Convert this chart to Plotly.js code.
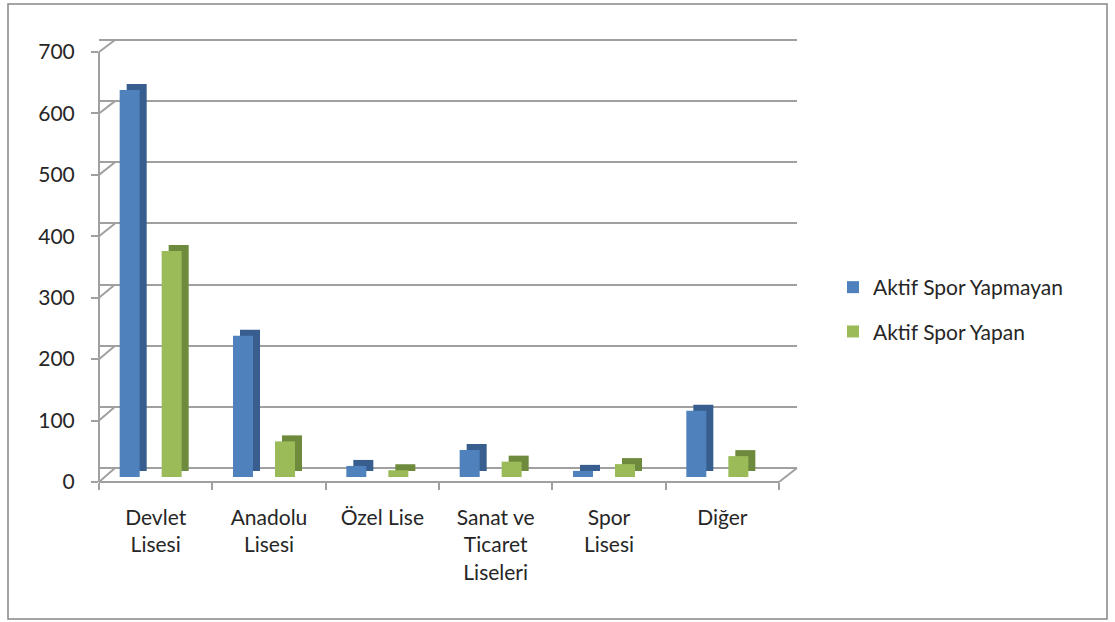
<!DOCTYPE html>
<html>
<head>
<meta charset="utf-8">
<script src="https://cdn.plot.ly/plotly-3.0.1.min.js"></script>
<style>html,body{margin:0;padding:0;background:#fff;}#chart{width:1115px;height:622px;}</style>
</head>
<body>
<div id="chart"></div>
<script>
// ---- data ----
const categories = ["Devlet<br>Lisesi", "Anadolu<br>Lisesi", "Özel Lise", "Sanat ve<br>Ticaret<br>Liseleri", "Spor<br>Lisesi", "Diğer"];
const seriesNames = ["Aktif Spor Yapmayan", "Aktif Spor Yapan"];
const notActive = [630, 230, 18, 44, 10, 108];
const active = [368, 58, 11, 25, 21, 34];
const yTicks = [0, 100, 200, 300, 400, 500, 600, 700];

// ---- geometry helpers (plot area in px) ----
const L = 99, R = 797, T = 36, B = 482;
const W = R - L, H = B - T;
const xp = px => (px - L) / W;
const yp = py => (B - py) / H;
const yMax = yTicks[yTicks.length - 1];
// y range so that value 0 sits at pixel p0 and yMax at pixel pTop
function yRange(p0, pTop) {
  const span = yMax * H / (p0 - pTop);
  const r0 = -(B - p0) / H * span;
  return [r0, r0 + span];
}
const catW = (779 - 99) / categories.length; // px per category
const xRange = [-0.5, -0.5 + W / catW];

const barW = 20 / catW, depthX = 7 / catW;
const offs = [-36 / catW, 6 / catW];
const fronts = ["#4F81BD", "#9BBB59"];
const sides = ["#375E8E", "#6E8A3C"];
const vals = [notActive, active];

const traces = [];
traces.push({type: "scatter", x: [categories[0]], y: [0], xaxis: "x", yaxis: "y", mode: "markers",
  marker: {opacity: 0}, showlegend: false, hoverinfo: "skip"});
traces.push({type: "scatter", x: [categories[0]], y: [0], xaxis: "x", yaxis: "y2", mode: "markers",
  marker: {opacity: 0}, showlegend: false, hoverinfo: "skip"});
// side (depth) faces
vals.forEach((v, i) => {
  traces.push({
    type: "bar", x: categories, y: v, xaxis: "x", yaxis: "y3",
    offset: offs[i] + depthX, width: barW,
    marker: {color: sides[i], line: {width: 0}},
    showlegend: false, hoverinfo: "skip"
  });
});
// front faces
vals.forEach((v, i) => {
  traces.push({
    type: "bar", x: categories, y: v, xaxis: "x", yaxis: "y4",
    name: seriesNames[i], legendgroup: "g" + i,
    offset: offs[i], width: barW,
    marker: {color: fronts[i], line: {width: 0}}
  });
});

const gridCol = "#a0a0a0";
const font = {family: "Lato, 'Open Sans', sans-serif", size: 21, color: "#262626"};

const shapes = [];
// cover for back-wall grid stubs in front of the left wall
shapes.push({type: "rect", xref: "paper", yref: "paper", x0: xp(96), x1: xp(115), y0: 0, y1: 1,
  fillcolor: "#ffffff", line: {width: 0}, layer: "between"});
yTicks.forEach(v => {
  const fy = 482 - v * 430 / yMax;
  const by = 468 - v * 428 / yMax;
  shapes.push({type: "line", xref: "paper", yref: "paper",
    x0: xp(99), y0: yp(fy), x1: xp(115), y1: yp(by),
    line: {color: gridCol, width: 2}});
});
// front floor edge, right floor edge, front value-axis line
shapes.push({type: "line", xref: "paper", yref: "paper",
  x0: xp(99), y0: yp(482), x1: xp(779), y1: yp(482), line: {color: gridCol, width: 2}});
shapes.push({type: "line", xref: "paper", yref: "paper",
  x0: xp(779), y0: yp(482), x1: xp(797), y1: yp(468), line: {color: gridCol, width: 2}});
shapes.push({type: "line", xref: "paper", yref: "paper",
  x0: xp(99), y0: yp(482), x1: xp(99), y1: yp(52), line: {color: gridCol, width: 2}});
// outer chart border
shapes.push({type: "rect", xref: "paper", yref: "paper",
  x0: xp(8), y0: yp(619), x1: xp(1107), y1: yp(4), line: {color: "#868686", width: 1.5}, layer: "below"});

const layout = {
  width: 1115, height: 622,
  margin: {l: L, r: 1115 - R, t: T, b: 622 - B, pad: 0},
  paper_bgcolor: "#ffffff", plot_bgcolor: "rgba(0,0,0,0)",
  font: font,
  barmode: "overlay",
  showlegend: true,
  legend: {x: xp(833), y: yp(267), xanchor: "left", yanchor: "top",
    font: {family: font.family, size: 21, color: "#262626"},
    traceorder: "grouped", tracegroupgap: 14, itemwidth: 30, bgcolor: "rgba(0,0,0,0)"},
  xaxis: {domain: [0, 1], type: "category", range: xRange, anchor: "y",
    showline: false, ticks: "outside", ticklen: 7,
    tickcolor: gridCol, tickwidth: 2, tickson: "boundaries", showgrid: false, zeroline: false,
    tickfont: font, ticklabelstandoff: 21, fixedrange: true},
  yaxis: {domain: [0, 1], range: yRange(482, 52), tickvals: yTicks, anchor: "x",
    showline: false, ticks: "outside", ticklen: 7,
    tickcolor: gridCol, tickwidth: 2, showgrid: false, zeroline: false,
    tickfont: font, ticklabelstandoff: 12, fixedrange: true},
  yaxis2: {range: yRange(468, 40), tickvals: yTicks, anchor: "x", overlaying: "y",
    showgrid: true, gridcolor: gridCol, gridwidth: 2, showticklabels: false, zeroline: false, showline: false, ticks: ""},
  yaxis3: {range: yRange(471, 41), overlaying: "y", anchor: "x", visible: false, showgrid: false},
  yaxis4: {range: yRange(477, 47), overlaying: "y", anchor: "x", visible: false, showgrid: false},
  shapes: shapes
};

Plotly.newPlot("chart", traces, layout, {displayModeBar: false, staticPlot: true});
</script>
</body>
</html>
